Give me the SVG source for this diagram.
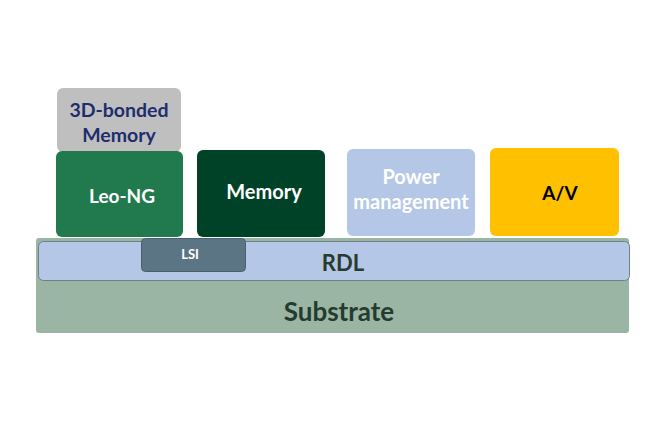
<svg xmlns="http://www.w3.org/2000/svg" width="667" height="440" viewBox="0 0 667 440">
<style>
text{font-family:Lato,"Open Sans",sans-serif;font-weight:bold;text-anchor:middle}
.w{fill:#ffffff}
</style>
<rect width="667" height="440" fill="#ffffff"/>
<g id="substrate">
<rect x="36" y="238" width="593" height="95" rx="3" fill="#9bb5a5"/>
<text x="339" y="321" font-size="26" fill="#243b2e">Substrate</text>
</g>
<g id="rdl">
<rect x="38.5" y="241.5" width="591" height="39" rx="5" fill="#b4c7e7" stroke="#6f7f86" stroke-width="1"/>
<text x="343" y="271" font-size="22" fill="#2a3a2e">RDL</text>
</g>
<g id="lsi">
<rect x="141.5" y="238.5" width="104" height="33" rx="4" fill="#5b7584" stroke="#4a5f6e" stroke-width="1"/>
<text x="190" y="259" font-size="13" class="w">LSI</text>
</g>
<g id="mem3d">
<rect x="57" y="88" width="124" height="64" rx="6" fill="#bfbfbf"/>
<text x="119" y="117" font-size="19.5" fill="#1f2d6e">3D-bonded</text>
<text x="119" y="142" font-size="19.5" fill="#1f2d6e">Memory</text>
</g>
<g id="leo">
<rect x="56" y="151" width="127" height="86" rx="6" fill="#217a4e"/>
<text x="122" y="203" font-size="19" class="w">Leo-NG</text>
</g>
<g id="memory">
<rect x="197" y="150" width="128" height="87" rx="6" fill="#004228"/>
<text x="264" y="199" font-size="20" class="w">Memory</text>
</g>
<g id="power">
<rect x="347" y="149" width="128" height="87" rx="6" fill="#b4c7e7"/>
<text x="411" y="184" font-size="20" class="w">Power</text>
<text x="411" y="209" font-size="20" class="w">management</text>
</g>
<g id="av">
<rect x="490" y="148" width="129" height="88" rx="6" fill="#ffc000"/>
<text x="560" y="200" font-size="19" fill="#000000">A/V</text>
</g>
<g id="connectors"></g>
</svg>
